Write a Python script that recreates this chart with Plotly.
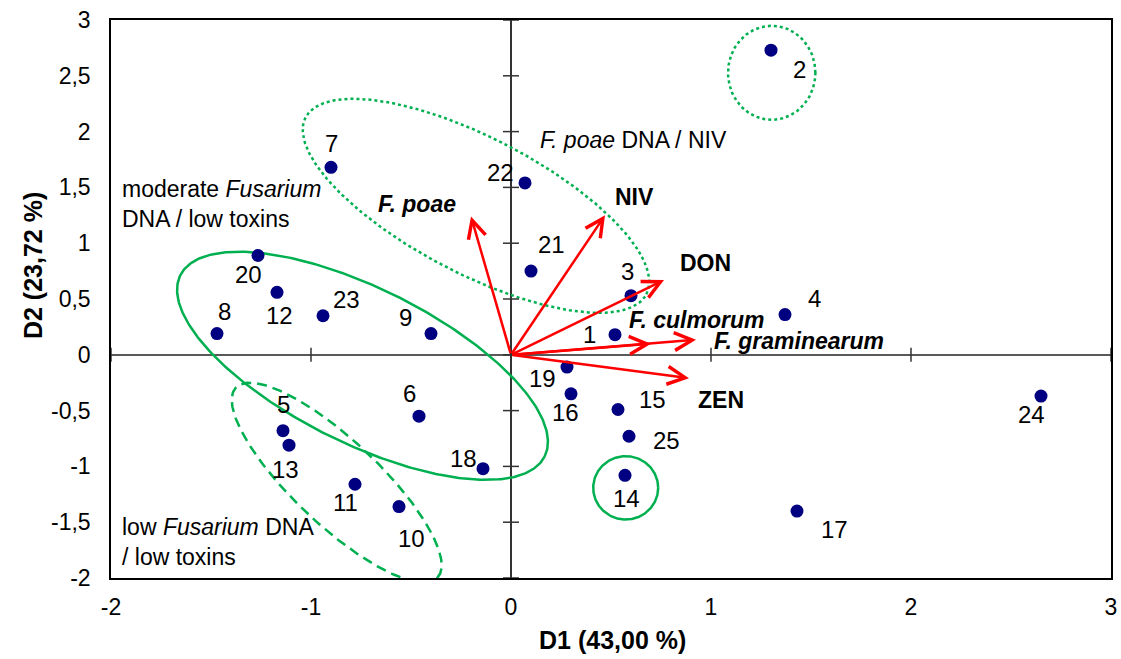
import numpy as np
import plotly.graph_objects as go

# ---------------- data ----------------
sample_ids = [str(i) for i in range(1, 26)]
d1 = [0.52, 1.30, 0.60, 1.37, -1.14, -0.46, -0.90, -1.47, -0.40, -0.56,
      -0.78, -1.17, -1.11, 0.57, 0.535, 0.30, 1.43, -0.14, 0.28, -1.265,
      0.10, 0.07, -0.94, 2.65, 0.59]
d2 = [0.18, 2.73, 0.53, 0.36, -0.68, -0.55, 1.68, 0.19, 0.19, -1.36,
      -1.16, 0.56, -0.81, -1.08, -0.49, -0.35, -1.40, -1.02, -0.11, 0.89,
      0.75, 1.54, 0.35, -0.37, -0.73]

var_names = ["<i>F. poae</i>", "NIV", "DON", "<i>F. culmorum</i>",
             "<i>F. graminearum</i>", "ZEN"]
var_d1 = [-0.20, 0.47, 0.765, 0.70, 0.925, 0.89]
var_d2 = [1.24, 1.25, 0.67, 0.10, 0.135, -0.21]

x_ticks = [-2, -1, 0, 1, 2, 3]
x_ticktext = ["-2", "-1", "0", "1", "2", "3"]
y_ticks = [-2, -1.5, -1, -0.5, 0, 0.5, 1, 1.5, 2, 2.5, 3]
y_ticktext = ["-2", "-1,5", "-1", "-0,5", "0", "0,5", "1", "1,5", "2", "2,5", "3"]

x_title = "D1 (43,00 %)"
y_title = "D2 (23,72 %)"

# ---------------- styling / placement ----------------
FONT = "Arial, Liberation Sans, Helvetica, sans-serif"
GREEN = "#00B050"
NAVY = "#000080"
RED = "#FF0000"

# label offsets (pixels, dx right, dy down) for sample numbers
label_offsets = {
    "1": (-26, 0), "2": (28, 19), "3": (-4, -24), "4": (29, -16), "5": (0, -26),
    "6": (-10, -23), "7": (0, -24), "8": (7, -22), "9": (-26, -16), "10": (12, 32),
    "11": (-10, 18), "12": (2, 23), "13": (-4, 24), "14": (1, 23), "15": (34, -10),
    "16": (-6, 19), "17": (37, 18), "18": (-20, -10), "19": (-25, 11), "20": (-10, 19),
    "21": (20, -27), "22": (-25, -10), "23": (23, -16), "24": (-10, 18), "25": (37, 4),
}
# variable label offsets from the arrow tip (pixels, dy down)
var_label_offsets = [(-54, -12), (29, -18), (41, -17), (45, -24), (103, 1), (32, 22)]

# group outlines: centre, semi-axis vectors (data units), dash
groups = [
    dict(c=(-0.175, 1.335), u=(0.852, -0.792), v=(0.157, 0.541), dash="dot"),
    dict(c=(-0.7425, -0.0986), u=(0.911, -0.811), v=(0.172, 0.622), dash="solid"),
    dict(c=(-0.8715, -1.145), u=(0.504, -0.851), v=(0.146, 0.277), dash="10px,6px"),
    dict(c=(1.3035, 2.527), u=(0.2185, 0.0), v=(0.0, 0.421), dash="dot"),
    dict(c=(0.5735, -1.192), u=(0.1625, 0.0), v=(0.0, 0.284), dash="solid"),
]

fig = go.Figure()

t = np.linspace(0, 2 * np.pi, 361)
for g in groups:
    ex = g["c"][0] + g["u"][0] * np.cos(t) + g["v"][0] * np.sin(t)
    ey = g["c"][1] + g["u"][1] * np.cos(t) + g["v"][1] * np.sin(t)
    fig.add_trace(go.Scatter(x=ex, y=ey, mode="lines",
                             line=dict(color=GREEN, width=2.5, dash=g["dash"]),
                             hoverinfo="skip", showlegend=False))

fig.add_trace(go.Scatter(x=d1, y=d2, mode="markers",
                         marker=dict(color=NAVY, size=13),
                         text=sample_ids, hoverinfo="text", showlegend=False))

annotations = []
for sid, xv, yv in zip(sample_ids, d1, d2):
    dx, dy = label_offsets[sid]
    annotations.append(dict(x=xv, y=yv, xref="x", yref="y", text=sid,
                            showarrow=False, xshift=dx, yshift=-dy,
                            font=dict(family=FONT, size=24, color="black")))

for name, xv, yv, (dx, dy) in zip(var_names, var_d1, var_d2, var_label_offsets):
    annotations.append(dict(x=xv, y=yv, xref="x", yref="y", ax=0, ay=0,
                            axref="x", ayref="y", text="", showarrow=True,
                            arrowhead=5, arrowsize=1.4, arrowwidth=2.5,
                            arrowcolor=RED))
    annotations.append(dict(x=xv, y=yv, xref="x", yref="y",
                            text="<b>" + name + "</b>", showarrow=False,
                            xshift=dx, yshift=-dy,
                            font=dict(family=FONT, size=23, color="black")))

# group descriptions
annotations += [
    dict(x=-1.955, y=1.349, xref="x", yref="y", xanchor="left", align="left",
         text="moderate <i>Fusarium</i><br>DNA / low toxins", showarrow=False,
         font=dict(family=FONT, size=23, color="black")),
    dict(x=-1.955, y=-1.676, xref="x", yref="y", xanchor="left", align="left",
         text="low <i>Fusarium</i> DNA<br>/ low toxins", showarrow=False,
         font=dict(family=FONT, size=23, color="black")),
    dict(x=0.135, y=1.927, xref="x", yref="y", xanchor="left", align="left",
         text="<i>F. poae</i> DNA / NIV", showarrow=False,
         font=dict(family=FONT, size=23, color="black")),
]

# axis titles
annotations += [
    dict(x=0.501, y=-0.111, xref="paper", yref="paper", xanchor="center", yanchor="middle",
         text="<b>" + x_title + "</b>",
         showarrow=False, font=dict(family=FONT, size=25, color="black")),
    dict(x=-0.078, y=0.559, xref="paper", yref="paper", xanchor="center", yanchor="middle",
         text="<b>" + y_title + "</b>",
         showarrow=False, textangle=-90, font=dict(family=FONT, size=25, color="black")),
]

# cross tick marks on the zero axes
shapes = []
for yv in y_ticks:
    shapes.append(dict(type="line", xref="x", yref="y", xsizemode="pixel", xanchor=0,
                       x0=-8, x1=8, y0=yv, y1=yv,
                       line=dict(color="#333333", width=1.5)))
for xv in x_ticks:
    shapes.append(dict(type="line", xref="x", yref="y", ysizemode="pixel", yanchor=0,
                       y0=-7, y1=7, x0=xv, x1=xv,
                       line=dict(color="#333333", width=1.5)))

fig.update_layout(
    width=1121, height=659, autosize=False,
    margin=dict(l=111, r=10, t=20, b=81, pad=0),
    paper_bgcolor="white", plot_bgcolor="white",
    font=dict(family=FONT, color="black"),
    annotations=annotations, shapes=shapes,
    xaxis=dict(range=[-2, 3], tickvals=x_ticks, ticktext=x_ticktext,
               showgrid=False, zeroline=True, zerolinecolor="#333333", zerolinewidth=1.5,
               showline=True, mirror=True, linecolor="black", linewidth=1.5,
               ticks="", tickfont=dict(family=FONT, size=23, color="black"),
               ticklabelstandoff=8, ticklabeloverflow="allow", automargin=False,
               fixedrange=True),
    yaxis=dict(range=[-2, 3], tickvals=y_ticks, ticktext=y_ticktext,
               showgrid=False, zeroline=True, zerolinecolor="#595959", zerolinewidth=2,
               showline=True, mirror=True, linecolor="black", linewidth=1.5,
               ticks="", tickfont=dict(family=FONT, size=23, color="black"),
               ticklabelstandoff=14, ticklabeloverflow="allow", automargin=False,
               fixedrange=True),
)

# remove the default page margin so the figure fills the window exactly
fig.write_html(
    "out.html",
    config={"displayModeBar": False},
    post_script="document.body.style.margin='0px';"
                "document.documentElement.style.overflow='hidden';",
)
